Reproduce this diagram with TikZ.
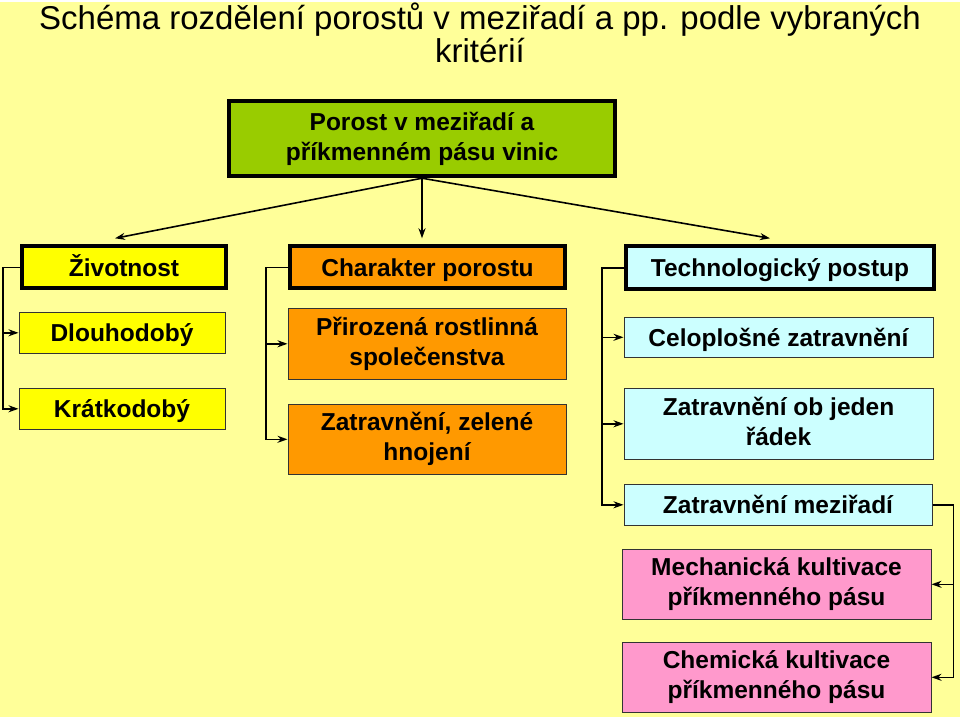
\documentclass[tikz,border=0pt]{standalone}
\usepackage{fontspec}
\usetikzlibrary{arrows.meta}
\setmainfont{Liberation Sans}
\definecolor{pozadi}{HTML}{FFFF99}
\definecolor{zelena}{HTML}{99CC00}
\definecolor{zluta}{HTML}{FFFF00}
\definecolor{oranz}{HTML}{FF9900}
\definecolor{modra}{HTML}{CCFFFF}
\definecolor{ruzova}{HTML}{FF99CC}
\newcommand{\podpera}{\rule[-5.5pt]{0pt}{28.5pt}}
\begin{document}
\begin{tikzpicture}[x=1pt,y=-1pt,line join=miter,>={Stealth[length=10pt,width=7pt]},
	box/.style={draw=black!80,line width=1pt,align=center,inner sep=0pt,
		font=\fontsize{24.5}{30}\selectfont\bfseries,
		execute at begin node=\podpera,execute at end node=\podpera},
	hlava/.style={box,draw=black,line width=3.8pt},
	spoj/.style={line width=1.6pt,->}]
	\path[fill=pozadi] (0,0) rectangle (960,715);
	\node[align=center,font=\fontsize{33}{33}\selectfont] (titulek) at (480,31)
	{Schéma rozdělení porostů v meziřadí a pp. podle vybraných\\kritérií};
	%%Boxy
	\node[hlava,fill=zelena,minimum width=386,minimum height=75] (root) at (422,136.5)
	{Porost v meziřadí a\\příkmenném pásu vinic};
	\node[hlava,fill=zluta,minimum width=204,minimum height=42] (ziv) at (124,265) {Životnost};
	\node[box,fill=zluta,minimum width=206,minimum height=41] (dlo) at (122,330.5) {Dlouhodobý};
	\node[box,fill=zluta,minimum width=206,minimum height=41] (kra) at (122,406.5) {Krátkodobý};
	\node[hlava,fill=oranz,minimum width=275,minimum height=42] (cha) at (427.5,265) {Charakter porostu};
	\node[box,fill=oranz,minimum width=278,minimum height=71] (pri) at (427,341.5)
	{Přirozená rostlinná\\společenstva};
	\node[box,fill=oranz,minimum width=278,minimum height=70] (zat) at (427,437)
	{Zatravnění, zelené\\hnojení};
	\node[hlava,fill=modra,minimum width=308,minimum height=43] (tec) at (780,265.5) {Technologický postup};
	\node[box,fill=modra,minimum width=309,minimum height=40] (cel) at (778.5,335) {Celoplošné zatravnění};
	\node[box,fill=modra,minimum width=309,minimum height=71] (ob) at (778.5,421.5)
	{Zatravnění ob jeden\\řádek};
	\node[box,fill=modra,minimum width=308,minimum height=41] (mez) at (778,502.5) {Zatravnění meziřadí};
	\node[box,fill=ruzova,minimum width=309,minimum height=70] (mec) at (776.5,582)
	{Mechanická kultivace\\příkmenného pásu};
	\node[box,fill=ruzova,minimum width=309,minimum height=70] (che) at (776.5,675)
	{Chemická kultivace\\příkmenného pásu};
	%%Body pro sipky
	\path (115,236)coordinate(zivtop) (422,236)coordinate(chatop) (770,236)coordinate(tectop);
	%%Spoje
	\foreach \k in {zivtop,chatop,tectop}{
		\draw[spoj] (root.south)--(\k);
	}
	\foreach \a/\b/\d in {ziv/dlo/-17,ziv/kra/-17,cha/pri/-22,cha/zat/-22,tec/cel/-22,tec/ob/-22,tec/mez/-22}{
		\draw[spoj] (\a.west)--++(\d,0)|-(\b.west);
	}
	\foreach \b in {mec,che}{
		\draw[spoj] (mez.east)--++(21,0)|-(\b.east);
	}
\end{tikzpicture}
\end{document}
